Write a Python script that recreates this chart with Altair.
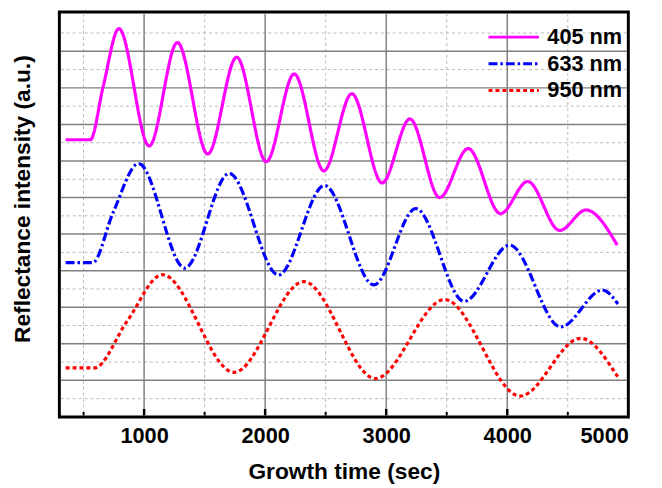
import altair as alt
import pandas as pd

# ---- data ----
series = ["405 nm", "633 nm", "950 nm"]

t405 = [352, 556, 662, 792, 1042, 1275, 1526, 1765, 2009, 2240, 2485, 2716, 2966,
        3196, 3441, 3677, 3944, 4169, 4433, 4650, 4908]
y405 = [7.58, 7.58, 9.04, 10.62, 7.41, 10.24, 7.19, 9.84, 6.98, 9.38, 6.73, 8.84, 6.40,
        8.15, 6.00, 7.34, 5.56, 6.44, 5.10, 5.66, 4.70]

t633 = [352, 575, 743, 955, 1336, 1703, 2110, 2490, 2897, 3245, 3644, 4020, 4441, 4786, 4914]
y633 = [4.22, 4.22, 5.58, 6.93, 4.07, 6.66, 3.88, 6.33, 3.61, 5.70, 3.16, 4.70, 2.46, 3.47, 3.09]

t950 = [352, 588, 860, 1151, 1743, 2319, 2911, 3482, 4107, 4605, 4912]
y950 = [1.34, 1.34, 2.62, 3.89, 1.22, 3.70, 1.05, 3.21, 0.57, 2.15, 1.10]

x_labels = [1000, 2000, 3000, 4000, 5000]
x_major = [1000, 2000, 3000, 4000]
x_minor = [500, 1500, 2500, 3500, 4500]
y_major = [1, 2, 3, 4, 5, 6, 7, 8, 9, 10]
y_minor = [0.5, 1.5, 2.5, 3.5, 4.5, 5.5, 6.5, 7.5, 8.5, 9.5, 10.5]

# ---- build tables ----
rows = []
for name, ts, ys in zip(series, [t405, t633, t950], [y405, y633, y950]):
    for i, (t, y) in enumerate(zip(ts, ys)):
        rows.append({"series": name, "t": t, "y": y, "order": i})
curves = pd.DataFrame(rows)

FONT = "Liberation Sans"
W, H = 576, 410

xs = alt.Scale(domain=[300, 5000], nice=False, zero=False)
ys = alt.Scale(domain=[0, 11.077], nice=False, zero=False)

x_axis = alt.Axis(values=x_labels, format="d", grid=False, ticks=False, tickSize=0, domain=False,
                  labelFont=FONT, labelFontSize=22, labelFontWeight="bold", labelColor="black",
                  labelPadding=9, title="Growth time (sec)", titleFont=FONT, titleFontSize=23,
                  titleFontWeight="bold", titleColor="black", titleY=62,
                  titleBaseline="alphabetic")
y_axis = alt.Axis(labels=False, grid=False, ticks=False, domain=False,
                  title="Reflectance intensity (a.u.)", titleFont=FONT, titleFontSize=23,
                  titleFontWeight="bold", titleColor="black", titleX=-30, titleY=189,
                  titleAngle=270, titleAlign="center", titleBaseline="alphabetic")

def vgrid(values, **style):
    return alt.Chart(pd.DataFrame({"v": values})).mark_rule(**style).encode(
        x=alt.X("v:Q", scale=xs, axis=x_axis),
        y=alt.value(1.5), y2=alt.value(H - 1.5))

def hgrid(values, **style):
    return alt.Chart(pd.DataFrame({"v": values})).mark_rule(**style).encode(
        y=alt.Y("v:Q", scale=ys, axis=y_axis),
        x=alt.value(1.5), x2=alt.value(W - 1.5))

minor_style = dict(color="#b8b8b8", strokeWidth=1, strokeDash=[3, 3])
major_style = dict(color="#808080", strokeWidth=1.5)

g1 = vgrid(x_minor, **minor_style)
g2 = hgrid(y_minor, **minor_style)
g3 = vgrid(x_major, **major_style)
g4 = hgrid(y_major, **major_style)

tick_major = alt.Chart(pd.DataFrame({"v": x_major})).mark_rule(color="black", strokeWidth=2.5).encode(
    x=alt.X("v:Q", scale=xs, axis=x_axis), y=alt.value(H - 8), y2=alt.value(H - 1.5))
tick_minor = alt.Chart(pd.DataFrame({"v": x_minor})).mark_rule(color="black", strokeWidth=2).encode(
    x=alt.X("v:Q", scale=xs, axis=x_axis), y=alt.value(H - 5), y2=alt.value(H - 1.5))

legend = alt.Legend(title=None, orient="none", legendX=433, legendY=12,
                    symbolType="stroke", symbolSize=2601, symbolStrokeWidth=3,
                    labelFont=FONT, labelFontSize=22, labelFontWeight="bold", labelColor="black",
                    labelOffset=7, clipHeight=27, rowPadding=0, padding=0)

lines = alt.Chart(curves).mark_line(interpolate="monotone", strokeWidth=3.2).encode(
    x=alt.X("t:Q", scale=xs, axis=x_axis),
    y=alt.Y("y:Q", scale=ys, axis=y_axis),
    color=alt.Color("series:N", scale=alt.Scale(domain=series, range=["#ff00ff", "#0000ff", "#ff0000"]),
                    legend=legend),
    strokeDash=alt.StrokeDash("series:N", scale=alt.Scale(domain=series,
                              range=[[1, 0], [9, 3, 2.5, 3], [4, 3]]), legend=legend),
    order="order:Q",
)

chart = alt.layer(g1, g2, g3, g4, tick_minor, tick_major, lines).properties(
    width=W, height=H,
    padding={"left": 52, "top": 1, "right": 26, "bottom": 70},
    autosize="none",
).configure_view(stroke="black", strokeWidth=3)

chart.save("out.html", embed_options={"renderer": "svg", "actions": False})
